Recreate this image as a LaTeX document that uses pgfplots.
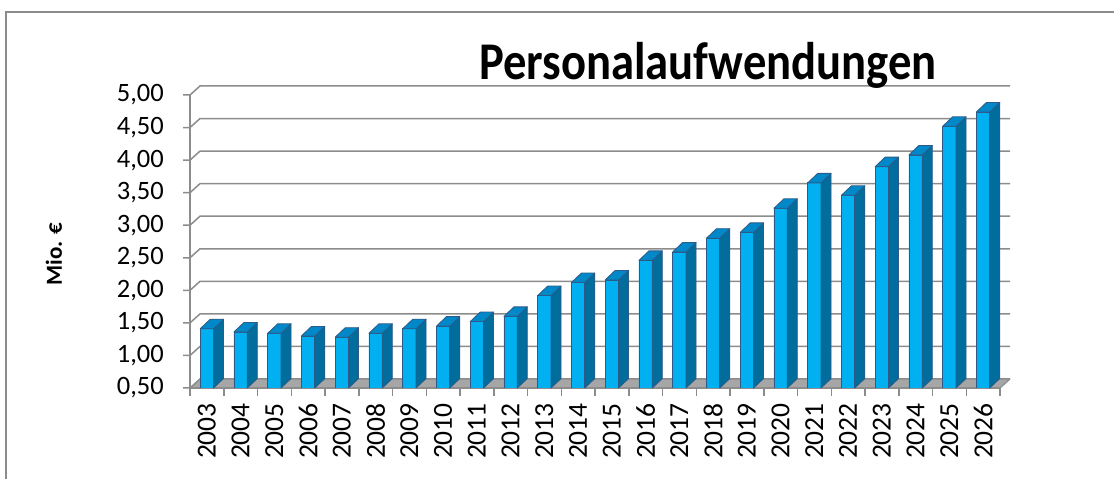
\documentclass[border=0pt]{standalone}
\usepackage{pgfplots}
\pgfplotsset{compat=1.18}
\usepackage{pgfplotstable}
\usepackage{fontspec}
\setmainfont{Carlito}
\newfontfamily\titlefont{Carlito}[FakeStretch=0.88]
\definecolor{barfront}{HTML}{00B0F0}
\definecolor{barside}{HTML}{006D9C}
\definecolor{bartop}{HTML}{0088C8}
\definecolor{baredge}{HTML}{2E5A88}
\definecolor{gridc}{HTML}{8C8C8C}
\definecolor{floorc}{HTML}{A6A6A6}
\pgfplotstableread{
x year val
0 2003 1.41
1 2004 1.36
2 2005 1.34
3 2006 1.30
4 2007 1.28
5 2008 1.34
6 2009 1.41
7 2010 1.45
8 2011 1.52
9 2012 1.60
10 2013 1.92
11 2014 2.12
12 2015 2.16
13 2016 2.46
14 2017 2.59
15 2018 2.80
16 2019 2.89
17 2020 3.26
18 2021 3.65
19 2022 3.46
20 2023 3.90
21 2024 4.08
22 2025 4.52
23 2026 4.74
}\datatable
\begin{document}
\begin{tikzpicture}[x=1pt,y=1pt]
\useasboundingbox (0,0) rectangle (1114,479);
\draw[gridc, line width=1.5pt] (6,0) -- (6,467) -- (1114,467);
% floor
\fill[floorc] (190,91) -- (1000,91) -- (1010,100) -- (200,100) -- cycle;
% gridlines on back wall
\foreach \i in {0,...,9} {
  \pgfmathsetmacro\yy{91+\i*32.556}
  \draw[gridc, line width=1.5pt] (183,\yy) -- (190,\yy) -- (200,\yy+9) -- (1010,\yy+9);
}
\draw[gridc, line width=1.2pt] (1000,91) -- (1010,100);
\draw[gridc, line width=1.5pt] (190,91) -- (1000,91);
\foreach \i in {0,...,24} \draw[gridc, line width=1.5pt] (190+\i*33.75,91) -- ++(0,-8);
\draw[gridc, line width=1.5pt] (190,91) -- (190,384);
\begin{axis}[
  at={(190pt,91pt)}, anchor=south west,
  scale only axis, width=810pt, height=293pt,
  xmin=-0.5, xmax=23.5, ymin=0.5, ymax=5,
  axis line style={draw=none},
  major tick length=0pt,
  ytick={0.5,1.0,1.5,2.0,2.5,3.0,3.5,4.0,4.5,5.0},
  xtick={0,...,23},
  xticklabels from table={\datatable}{year},
  /pgf/number format/fixed,
  /pgf/number format/fixed zerofill,
  /pgf/number format/precision=2,
  /pgf/number format/use comma,
  /pgf/number format/assume math mode=true,
  yticklabel style={anchor=east, inner sep=0pt, xshift=-26pt, font=\fontsize{26.5}{26.5}\selectfont},
  xticklabel style={inner sep=0pt, yshift=-15pt, rotate=90, anchor=east, font=\fontsize{27.5}{27.5}\selectfont},
]
\addplot[ybar, bar width=13.4pt, fill=barfront, draw=baredge, line width=0.8pt] table[x=x,y=val]{\datatable};
\addplot[scatter, only marks, mark=*, mark size=0.1pt,
  visualization depends on={rawy \as \rawy},
  scatter/@pre marker code/.code={%
    \pgfmathsetmacro\hh{(\rawy-0.5)*65.111}%
    \filldraw[fill=barside, draw=baredge, line width=0.8pt, line join=round] (6.7pt,0pt) -- (16.7pt,9.5pt) -- (16.7pt,9.5pt-\hh pt) -- (6.7pt,-\hh pt) -- cycle;
    \filldraw[fill=bartop, draw=baredge, line width=0.8pt, line join=round] (-6.7pt,0pt) -- (6.7pt,0pt) -- (16.7pt,9.5pt) -- (3.3pt,9.5pt) -- cycle;
    \scope[opacity=0]%
  },
  scatter/@post marker code/.code={\endscope},
] table[x=x,y=val]{\datatable};
\end{axis}
\node[anchor=base, font=\titlefont\bfseries\fontsize{53}{53}\selectfont] at (708,399) {Personalaufwendungen};
\node[rotate=90, font=\bfseries\fontsize{23}{23}\selectfont] at (54,225) {Mio. €};
\end{tikzpicture}
\end{document}
